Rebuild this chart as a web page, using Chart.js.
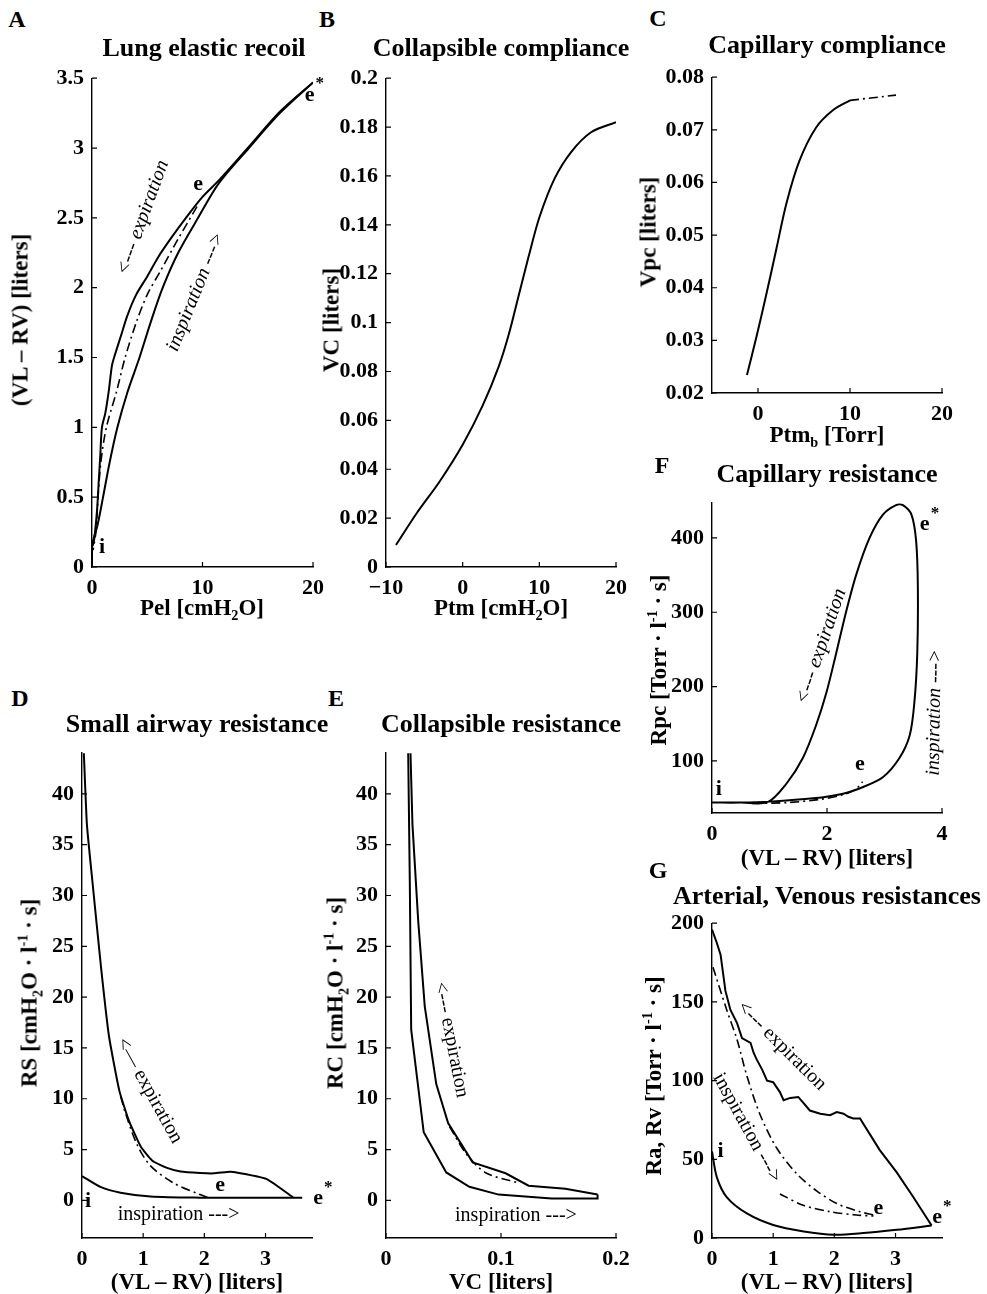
<!DOCTYPE html>
<html lang="en">
<head>
<meta charset="UTF-8">
<title>Lung and vascular mechanics</title>
<script src="https://cdn.jsdelivr.net/npm/chart.js"></script>
<style>
  body{margin:0;background:#fff;width:987px;height:1294px;position:relative;overflow:hidden;
       font-family:"Liberation Serif","Times New Roman",serif;color:#000}
  canvas{position:absolute}
  .t{position:absolute;white-space:nowrap;font-weight:bold;transform:translate(-50%,-50%);line-height:1}
  .ttl{font-size:26px}
  .lab{font-size:23px}
  .let{font-size:24px}
  .rot{transform:translate(-50%,-50%) rotate(-90deg)}
  sub,sup{font-size:62%;line-height:0}
</style>
</head>
<body>
<script>
// ---- A: lung elastic recoil (Pel, VL-RV)
const lungInsp  = [[0,0],[0,0.15],[0.5,0.3],[1,0.5],[1.6,0.75],[2.3,1.0],[3.2,1.25],[4.3,1.5],[5.3,1.75],[6.4,2.0],[7.8,2.25],[9.6,2.5],[11.5,2.75],[14.2,3.0],[17,3.25],[20,3.47]];
const lungExp   = [[20,3.47],[17,3.26],[14.2,3.01],[11.5,2.77],[10,2.65],[8.5,2.5],[7.2,2.36],[6.0,2.22],[5.0,2.08],[4.0,1.95],[3.2,1.8],[2.6,1.65],[2.0,1.5],[1.8,1.44],[1.5,1.25],[1.2,1.1],[0.9,1.0],[0.75,0.8],[0.6,0.6],[0.45,0.4],[0.2,0.2],[0.05,0.15]];
const lungTidal = [[9.5,2.58],[7.8,2.35],[6.2,2.12],[5.0,1.95],[4.0,1.75],[3.0,1.5],[2.2,1.25],[1.3,1.0],[0.8,0.75],[0.55,0.5],[0.35,0.25],[0.1,0.12]];
const aXTicks = [0,10,20],  aXLabels = ['0','10','20'];
const aYTicks = [0,0.5,1,1.5,2,2.5,3,3.5], aYLabels = ['0','0.5','1','1.5','2','2.5','3','3.5'];

// ---- B: collapsible compliance (Ptm, VC)
const collComp = [[-8.7,0.009],[-6,0.022],[-3,0.035],[0,0.05],[2.6,0.066],[4.7,0.082],[6,0.095],[7.3,0.111],[8.6,0.127],[10,0.143],[12,0.159],[14.2,0.17],[16.8,0.178],[20,0.182]];
const bXTicks = [-10,0,10,20], bXLabels = ['\u221210','0','10','20'];
const bYTicks = [0,0.02,0.04,0.06,0.08,0.1,0.12,0.14,0.16,0.18,0.2];
const bYLabels = ['0','0.02','0.04','0.06','0.08','0.1','0.12','0.14','0.16','0.18','0.2'];

// ---- C: capillary compliance (Ptm_b, Vpc)
const capComp    = [[-1.2,0.0234],[-0.18,0.0306],[0.9,0.0387],[2.0,0.0474],[3.1,0.0561],[4.5,0.0641],[6.3,0.0704],[8.2,0.0738],[10,0.0756]];
const capCompExt = [[10,0.0756],[12.5,0.0761],[15,0.0766]];
const cXTicks = [0,10,20], cXLabels = ['0','10','20'];
const cYTicks = [0.02,0.03,0.04,0.05,0.06,0.07,0.08], cYLabels = ['0.02','0.03','0.04','0.05','0.06','0.07','0.08'];

// ---- F: capillary resistance (VL-RV, Rpc)
const capRes = [[0,44],[0.5,44],[1.0,45.3],[1.76,49.7],[2.28,56],[2.63,65],[2.97,78],[3.26,104],[3.44,135],[3.52,179],[3.57,245],[3.58,334],[3.55,396],[3.47,431],[3.32,444],[3.2,444],[2.97,431],[2.74,400],[2.51,351],[2.34,303],[2.16,245],[1.99,192],[1.81,148],[1.58,104],[1.29,69],[0.97,44.6],[0.5,44],[0,44]];
const capResTidal = [[0.7,43],[1.3,44],[1.9,48.5],[2.3,55],[2.5,62],[2.62,72]];
const fXTicks = [0,2,4], fXLabels = ['0','2','4'];
const fYTicks = [100,200,300,400], fYLabels = ['100','200','300','400'];

// ---- D: small airway resistance (VL-RV, RS)
const saExp   = [[3.45,0.3],[3.02,2.1],[2.47,2.8],[2.37,2.8],[2.15,2.66],[1.93,2.7],[1.61,2.85],[1.39,3.2],[1.15,3.9],[0.96,5.3],[0.77,7.8],[0.61,10.8],[0.44,16.2],[0.31,23],[0.17,31.4],[0.08,37],[0.03,44]];
const saInsp  = [[0,2.4],[0.31,1.3],[0.63,0.76],[1.12,0.38],[1.93,0.27],[3.02,0.27],[3.6,0.27]];
const saTidal = [[2.05,0.3],[1.93,0.57],[1.5,1.7],[1.12,3.4],[0.9,5.5],[0.71,8.6],[0.62,10.5]];
const dXTicks = [0,1,2,3], dXLabels = ['0','1','2','3'];
const rYTicks = [0,5,10,15,20,25,30,35,40], rYLabels = ['0','5','10','15','20','25','30','35','40'];

// ---- E: collapsible resistance (VC, RC)
const crExp   = [[0.184,0.57],[0.156,1.15],[0.124,1.45],[0.104,2.67],[0.0754,3.74],[0.054,7.6],[0.0437,11.45],[0.0337,19.1],[0.028,27.5],[0.023,37],[0.0213,44]];
const crInsp  = [[0.0193,44],[0.0207,31.3],[0.0219,16.8],[0.0328,6.7],[0.0524,2.75],[0.0725,1.34],[0.098,0.57],[0.144,0.19],[0.184,0.19],[0.184,0.57]];
const crTidal = [[0.0553,7.25],[0.0696,4.6],[0.087,2.7],[0.116,1.7]];
const eXTicks = [0,0.1,0.2], eXLabels = ['0','0.1','0.2'];

// ---- G: arterial, venous resistances (VL-RV, Ra Rv)
const avInsp = [[0,55],[0.08,38.5],[0.24,26],[0.57,15.6],[1.0,8.3],[1.5,4.2],[2.0,2.1],[2.47,3.1],[3.02,5.2],[3.59,7.9]];
const avExp  = [[3.59,7.9],[3.29,26],[3.02,41.7],[2.74,56],[2.42,76],[2.31,76],[2.23,77],[2.15,79],[2.04,80],[1.93,78],[1.77,79],[1.6,81],[1.49,86],[1.41,89.6],[1.28,89],[1.17,87.5],[1.11,92.7],[1.0,99],[0.9,100],[0.82,107],[0.73,113.5],[0.68,117.7],[0.63,124],[0.49,127],[0.41,136.5],[0.3,145],[0.22,157],[0.14,180],[0.07,188.5],[0,196]];
const avTidalOut = [[0.016,172],[0.24,145],[0.41,126],[0.57,103],[0.79,78],[1.06,57],[1.39,40.6],[1.71,30],[2.04,21.9],[2.42,16.7],[2.64,14.6]];
const avTidalIn  = [[1.11,28],[1.49,20.8],[1.93,16.7],[2.36,14.6],[2.64,14]];
const gXTicks = [0,1,2,3], gXLabels = ['0','1','2','3'];
const gYTicks = [0,50,100,150,200], gYLabels = ['0','50','100','150','200'];

const DASHDOT = [9,4,2,4];
const NOTE = '20px "Liberation Serif"';
const NOTE_I = 'italic 20px "Liberation Serif"';
const MARK = 'bold 22px "Liberation Serif"';

// ticks drawn inward, matlab style
const inwardTicks = {
  id: 'inwardTicks',
  afterDraw(chart) {
    const {ctx, chartArea: a, scales: {x, y}} = chart;
    ctx.save();
    ctx.strokeStyle = '#000';
    ctx.lineWidth = 1.2;
    ctx.beginPath();
    x.ticks.forEach(t => { const px = x.getPixelForValue(t.value); ctx.moveTo(px, a.bottom); ctx.lineTo(px, a.bottom - 5); });
    y.ticks.forEach(t => { const py = y.getPixelForValue(t.value); ctx.moveTo(a.left, py); ctx.lineTo(a.left + 5, py); });
    ctx.stroke();
    ctx.restore();
  }
};

// text labels placed in data units
const notes = {
  id: 'notes',
  afterDatasetsDraw(chart, args, opts) {
    const {ctx, scales: {x, y}} = chart;
    (opts.items || []).forEach(n => {
      ctx.save();
      ctx.translate(x.getPixelForValue(n.x), y.getPixelForValue(n.y));
      ctx.rotate((n.rot || 0) * Math.PI / 180);
      ctx.font = n.font;
      ctx.fillStyle = '#000';
      ctx.textAlign = 'center';
      ctx.textBaseline = 'middle';
      ctx.fillText(n.text, 0, 0);
      if (n.star) {
        const w = ctx.measureText(n.text).width;
        ctx.font = 'bold 17px "Liberation Serif"';
        ctx.textAlign = 'left';
        ctx.fillText('*', w / 2 + 1, -11);
      }
      ctx.restore();
    });
  }
};
Chart.register(inwardTicks, notes);

function panel(p) {
  const padL = 72, padT = 16, padR = 36, padB = 36;
  const [l, t, r, b] = p.box;
  const W = r - l + padL + padR, H = b - t + padT + padB;
  const c = document.createElement('canvas');
  c.width = W; c.height = H;
  c.style.left = (l - padL) + 'px'; c.style.top = (t - padT) + 'px';
  c.style.width = W + 'px'; c.style.height = H + 'px';
  document.body.appendChild(c);

  const axis = (range, vals, labs, fit) => ({
    type: 'linear', min: range[0], max: range[1],
    afterBuildTicks: s => { s.ticks = vals.map(v => ({value: v})); },
    afterFit: fit,
    ticks: {
      color: '#000', autoSkip: false, maxRotation: 0, padding: 8,
      font: {family: 'Liberation Serif', weight: 'bold', size: 22},
      callback: (v, i) => labs[i]
    },
    grid: {drawOnChartArea: false, drawTicks: false},
    border: {display: true, color: '#000', width: 1.4}
  });

  new Chart(c, {
    type: 'scatter',
    data: {
      datasets: p.lines.map(L => ({
        data: L.pts.map(([x, y]) => ({x, y})),
        showLine: true, fill: false,
        borderColor: '#000', borderWidth: L.w || 2, borderDash: L.dash || [],
        pointRadius: 0, tension: L.ten === undefined ? 0.3 : L.ten
      }))
    },
    options: {
      responsive: false, animation: false, devicePixelRatio: 1,
      layout: {padding: {left: 0, top: padT, right: padR, bottom: 0}},
      plugins: {legend: {display: false}, tooltip: {enabled: false}, notes: {items: p.notes || []}},
      scales: {
        x: axis(p.x, p.xt, p.xl, s => { s.height = padB; }),
        y: axis(p.y, p.yt, p.yl, s => { s.width = padL; })
      }
    }
  });
}

panel({ box: [92, 73, 313, 567], x: [0, 20], y: [0, 3.5],
  xt: aXTicks, xl: aXLabels, yt: aYTicks, yl: aYLabels,
  lines: [ {pts: lungInsp}, {pts: lungExp}, {pts: lungTidal, dash: DASHDOT, w: 1.6} ],
  notes: [
    {x: 4.6, y: 2.5, rot: -70, text: '<--- expiration', font: NOTE_I},
    {x: 9.4, y: 1.97, rot: -68, text: 'inspiration --->', font: NOTE_I},
    {x: 9.6, y: 2.74, text: 'e', font: MARK},
    {x: 19.7, y: 3.38, text: 'e', font: MARK, star: true},
    {x: 0.9, y: 0.14, text: 'i', font: MARK}
  ]});

panel({ box: [386, 73, 616, 567], x: [-10, 20], y: [0, 0.2],
  xt: bXTicks, xl: bXLabels, yt: bYTicks, yl: bYLabels,
  lines: [ {pts: collComp} ] });

panel({ box: [712, 72, 942, 393], x: [-5, 20], y: [0.02, 0.08],
  xt: cXTicks, xl: cXLabels, yt: cYTicks, yl: cYLabels,
  lines: [ {pts: capComp}, {pts: capCompExt, dash: DASHDOT, w: 1.6, ten: 0} ] });

panel({ box: [712, 497, 942, 813], x: [0, 4], y: [30, 448],
  xt: fXTicks, xl: fXLabels, yt: fYTicks, yl: fYLabels,
  lines: [ {pts: capRes}, {pts: capResTidal, dash: DASHDOT, w: 1.6} ],
  notes: [
    {x: 1.9, y: 254, rot: -71, text: '<--- expiration', font: NOTE_I},
    {x: 3.87, y: 165, rot: -89, text: 'inspiration --->', font: NOTE_I},
    {x: 2.57, y: 95, text: 'e', font: MARK},
    {x: 3.7, y: 418, text: 'e', font: MARK, star: true},
    {x: 0.12, y: 62, text: 'i', font: MARK}
  ]});

panel({ box: [82, 747, 312, 1238], x: [0, 3.76], y: [-3.7, 44.1],
  xt: dXTicks, xl: dXLabels, yt: rYTicks, yl: rYLabels,
  lines: [ {pts: saExp, ten: 0.15}, {pts: saInsp}, {pts: saTidal, dash: DASHDOT, w: 1.6} ],
  notes: [
    {x: 1.1, y: 10.8, rot: 61, text: '<\u2014 expiration', font: NOTE},
    {x: 1.58, y: -1.4, text: 'inspiration --->', font: NOTE},
    {x: 2.26, y: 1.5, text: 'e', font: MARK},
    {x: 3.86, y: 0.2, text: 'e', font: MARK, star: true},
    {x: 0.1, y: -0.1, text: 'i', font: MARK}
  ]});

panel({ box: [386, 747, 616, 1238], x: [0, 0.2], y: [-3.7, 44.1],
  xt: eXTicks, xl: eXLabels, yt: rYTicks, yl: rYLabels,
  lines: [ {pts: crExp, ten: 0}, {pts: crInsp, ten: 0}, {pts: crTidal, dash: DASHDOT, w: 1.6} ],
  notes: [
    {x: 0.0567, y: 15.8, rot: 79, text: '<--- expiration', font: NOTE},
    {x: 0.113, y: -1.5, text: 'inspiration --->', font: NOTE}
  ]});

panel({ box: [712, 918, 942, 1238], x: [0, 3.76], y: [0, 200],
  xt: gXTicks, xl: gXLabels, yt: gYTicks, yl: gYLabels,
  lines: [ {pts: avInsp}, {pts: avExp, ten: 0}, {pts: avTidalOut, dash: DASHDOT, w: 1.6}, {pts: avTidalIn, dash: DASHDOT, w: 1.6} ],
  notes: [
    {x: 1.14, y: 122, rot: 45, text: '<--- expiration', font: NOTE},
    {x: 0.57, y: 70, rot: 61, text: 'inspiration --->', font: NOTE},
    {x: 2.72, y: 19, text: 'e', font: MARK},
    {x: 3.68, y: 13, text: 'e', font: MARK, star: true},
    {x: 0.14, y: 55, text: 'i', font: MARK}
  ]});

// panel letters, titles and axis labels
const texts = [
  ['let', 17, 19, 'A'], ['let', 327, 19, 'B'], ['let', 658, 18, 'C'], ['let', 662, 465, 'F'],
  ['let', 20, 698, 'D'], ['let', 336, 698, 'E'], ['let', 658, 870, 'G'],
  ['ttl', 204, 48, 'Lung elastic recoil'], ['ttl', 501, 48, 'Collapsible compliance'],
  ['ttl', 827, 45, 'Capillary compliance'], ['ttl', 827, 474, 'Capillary resistance'],
  ['ttl', 197, 724, 'Small airway resistance'], ['ttl', 501, 724, 'Collapsible resistance'],
  ['ttl', 827, 896, 'Arterial, Venous resistances'],
  ['lab', 202, 607, 'Pel [cmH<sub>2</sub>O]'], ['lab', 501, 607, 'Ptm [cmH<sub>2</sub>O]'],
  ['lab', 827, 434, 'Ptm<sub>b</sub> [Torr]'], ['lab', 827, 857, '(VL \u2013 RV) [liters]'],
  ['lab', 197, 1281, '(VL \u2013 RV) [liters]'], ['lab', 501, 1281, 'VC [liters]'],
  ['lab', 827, 1281, '(VL \u2013 RV) [liters]'],
  ['lab rot', 20, 320, '(VL \u2013 RV) [liters]'], ['lab rot', 331, 320, 'VC [liters]'],
  ['lab rot', 648, 232, 'Vpc [liters]'], ['lab rot', 658, 660, 'Rpc [Torr \u00b7 l<sup>-1</sup> \u00b7 s]'],
  ['lab rot', 29, 993, 'RS [cmH<sub>2</sub>O \u00b7 l<sup>-1</sup> \u00b7 s]'],
  ['lab rot', 335, 993, 'RC [cmH<sub>2</sub>O \u00b7 l<sup>-1</sup> \u00b7 s]'],
  ['lab rot', 653, 1076, 'Ra, Rv [Torr \u00b7 l<sup>-1</sup> \u00b7 s]']
];
texts.forEach(([cls, x, y, html]) => {
  const d = document.createElement('div');
  d.className = 't ' + cls;
  d.style.left = x + 'px';
  d.style.top = y + 'px';
  d.innerHTML = html;
  document.body.appendChild(d);
});
</script>
</body>
</html>
